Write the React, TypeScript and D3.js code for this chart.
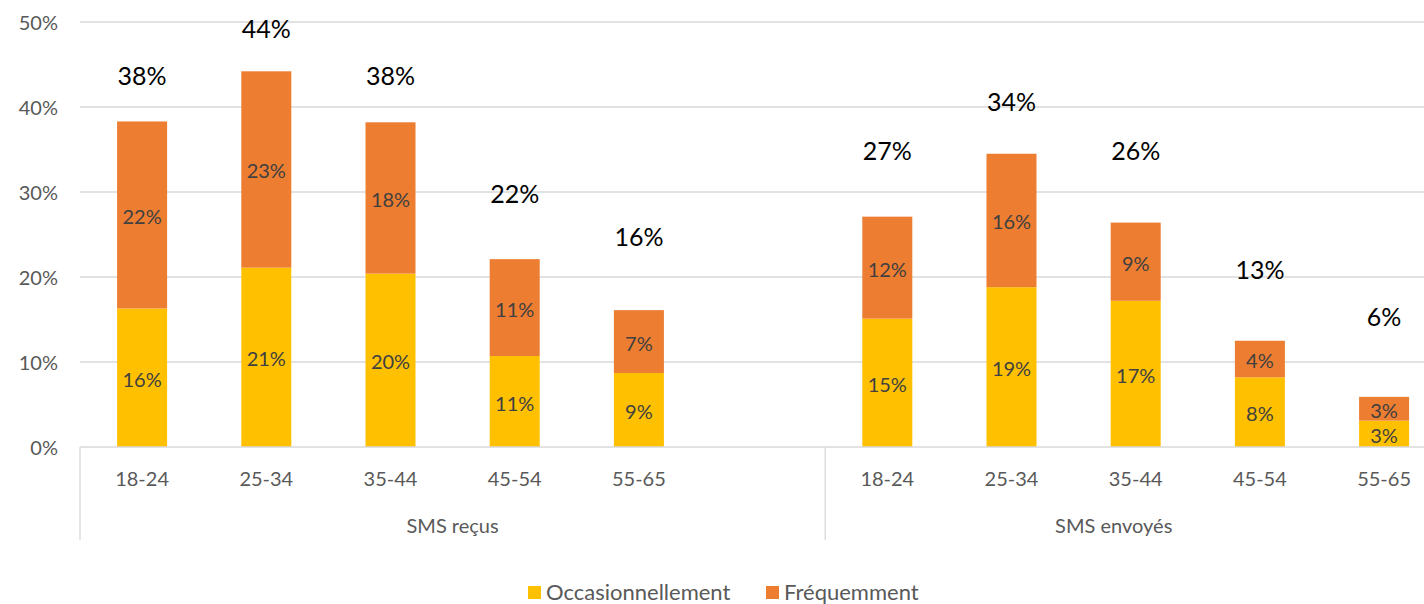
import React, { useEffect, useRef } from "react";
import * as d3 from "d3";

// data
const groups = ["SMS reçus", "SMS envoyés"];
const ageBands = ["18-24", "25-34", "35-44", "45-54", "55-65"];
const occasionRecus = [16.3, 21.1, 20.4, 10.7, 8.7];
const frequentRecus = [22.0, 23.1, 17.8, 11.4, 7.4];
const occasionEnvoyes = [15.1, 18.8, 17.2, 8.2, 3.1];
const frequentEnvoyes = [12.0, 15.7, 9.2, 4.3, 2.8];
const totalRecus = [38, 44, 38, 22, 16];
const totalEnvoyes = [27, 34, 26, 13, 6];
// where the total labels sit (in % on the value axis), placed by hand in the original
const totalLabelAtRecus = [43.8, 49.3, 43.8, 29.9, 24.8];
const totalLabelAtEnvoyes = [34.9, 40.7, 34.9, 20.9, 15.4];
const yTicks = [0, 10, 20, 30, 40, 50];
const seriesNames = ["Occasionnellement", "Fréquemment"];
const colors = ["#FFC000", "#ED7D31"];

const FONT = "Lato, 'Open Sans', sans-serif";

function Chart() {
  const ref = useRef<SVGSVGElement>(null);

  useEffect(() => {
    const svg = d3.select(ref.current);
    svg.selectAll("*").remove();

    const left = 80, top = 22, bottom = 447;
    const slot = 124.2;

    // slots: 5 bands + 1 empty for first group, 5 bands for second
    const slots: string[] = [];
    ageBands.forEach(a => slots.push(groups[0] + "|" + a));
    slots.push(groups[0] + "|");
    ageBands.forEach(a => slots.push(groups[1] + "|" + a));

    const x = d3.scaleBand().domain(slots).range([left, left + slots.length * slot]).padding(0);
    const y = d3.scaleLinear().domain([0, 50]).range([bottom, top]);
    const barW = 50;

    // gridlines
    svg.append("g").selectAll("line").data(yTicks.slice(1)).enter().append("line")
      .attr("x1", left).attr("x2", 1424)
      .attr("y1", d => y(d)).attr("y2", d => y(d))
      .attr("stroke", "#D9D9D9").attr("stroke-width", 1.3);

    // y labels
    svg.append("g").selectAll("text").data(yTicks).enter().append("text")
      .attr("x", 58).attr("y", d => y(d))
      .attr("text-anchor", "end").attr("dominant-baseline", "central")
      .attr("font-family", FONT).attr("font-size", 20).attr("fill", "#595959")
      .text(d => d + "%");

    const rows = [
      ...ageBands.map((a, i) => ({ key: groups[0] + "|" + a, o: occasionRecus[i], f: frequentRecus[i], t: totalRecus[i], ta: totalLabelAtRecus[i] })),
      ...ageBands.map((a, i) => ({ key: groups[1] + "|" + a, o: occasionEnvoyes[i], f: frequentEnvoyes[i], t: totalEnvoyes[i], ta: totalLabelAtEnvoyes[i] })),
    ];

    const cx = (k: string) => (x(k) as number) + x.bandwidth() / 2;

    const bars = svg.append("g");
    rows.forEach(r => {
      const x0 = cx(r.key) - barW / 2;
      bars.append("rect").attr("x", x0).attr("width", barW)
        .attr("y", y(r.o)).attr("height", y(0) - y(r.o)).attr("fill", colors[0]);
      bars.append("rect").attr("x", x0).attr("width", barW)
        .attr("y", y(r.o + r.f)).attr("height", y(r.o) - y(r.o + r.f)).attr("fill", colors[1]);
      bars.append("text").attr("x", cx(r.key)).attr("y", (y(0) + y(r.o)) / 2 + 1)
        .attr("text-anchor", "middle").attr("dominant-baseline", "central")
        .attr("font-family", FONT).attr("font-size", 20).attr("fill", "#404040")
        .text(Math.round(r.o) + "%");
      bars.append("text").attr("x", cx(r.key)).attr("y", (y(r.o) + y(r.o + r.f)) / 2 + 1)
        .attr("text-anchor", "middle").attr("dominant-baseline", "central")
        .attr("font-family", FONT).attr("font-size", 20).attr("fill", "#404040")
        .text(Math.round(r.f) + "%");
      bars.append("text").attr("x", cx(r.key)).attr("y", y(r.ta))
        .attr("text-anchor", "middle").attr("dominant-baseline", "central")
        .attr("font-family", FONT).attr("font-size", 25).attr("fill", "#000")
        .text(r.t + "%");
    });

    // category axis
    const ax = svg.append("g");
    ax.append("line").attr("x1", left).attr("x2", 1424).attr("y1", bottom).attr("y2", bottom)
      .attr("stroke", "#D9D9D9").attr("stroke-width", 1.3);
    const dividers = [x(slots[0]) as number, x(groups[1] + "|" + ageBands[0]) as number];
    ax.selectAll("line.div").data(dividers).enter().append("line")
      .attr("x1", d => d).attr("x2", d => d).attr("y1", bottom).attr("y2", 540)
      .attr("stroke", "#D9D9D9").attr("stroke-width", 1.3);
    ax.selectAll("text.cat").data(rows).enter().append("text")
      .attr("x", r => cx(r.key)).attr("y", 478)
      .attr("text-anchor", "middle").attr("dominant-baseline", "central")
      .attr("font-family", FONT).attr("font-size", 20).attr("fill", "#595959")
      .text(r => r.key.split("|")[1]);
    // group labels centred on their slots
    const g1 = slots.filter(s => s.startsWith(groups[0]));
    const g2 = slots.filter(s => s.startsWith(groups[1]));
    [g1, g2].forEach((gs, i) => {
      const a = x(gs[0]) as number;
      const b = (x(gs[gs.length - 1]) as number) + x.bandwidth();
      ax.append("text").attr("x", (a + b) / 2 - (i === 1 ? 22 : 0)).attr("y", 525)
        .attr("text-anchor", "middle").attr("dominant-baseline", "central")
        .attr("font-family", FONT).attr("font-size", 20).attr("fill", "#595959")
        .text(groups[i]);
    });

    // legend
    const leg = svg.append("g");
    const legX = [528, 766];
    seriesNames.forEach((n, i) => {
      leg.append("rect").attr("x", legX[i]).attr("y", 586).attr("width", 13).attr("height", 13).attr("fill", colors[i]);
      leg.append("text").attr("x", legX[i] + 18).attr("y", 591)
        .attr("dominant-baseline", "central")
        .attr("font-family", FONT).attr("font-size", 22).attr("fill", "#595959")
        .text(n);
    });
  }, []);

  return <svg ref={ref} width={1424} height={604} style={{ position: "absolute", left: 0, top: 0, background: "#fff" }} />;
}

export default function App() {
  return <Chart />;
}
